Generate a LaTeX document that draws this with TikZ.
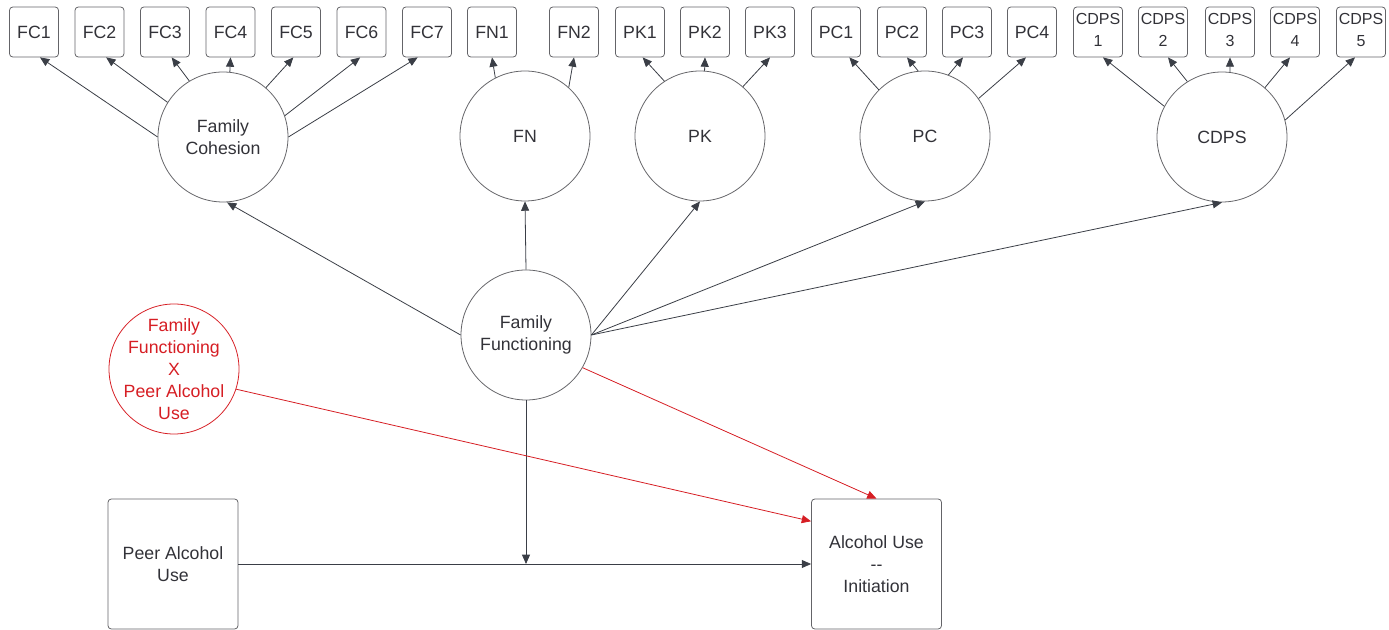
\documentclass[tikz,border=0pt]{standalone}
\usepackage{fontspec}
\setmainfont{Liberation Sans}
\usepackage{tikz}
\usetikzlibrary{calc,arrows.meta,positioning}
\definecolor{semgrey}{RGB}{58,62,70}
\definecolor{semframe}{RGB}{100,100,104}
\definecolor{semtext}{RGB}{50,50,56}
\definecolor{semred}{RGB}{214,30,36}
\tikzset{
  obs/.style={rectangle, rounded corners=2.5pt, draw=semframe, line width=0.6pt,
              minimum width=36.75pt, minimum height=37.5pt, inner sep=0pt,
              text=semtext, font=\fontsize{13.3}{16.5}\selectfont},
  obssmall/.style={obs, align=center, text depth=3pt, font=\fontsize{12}{16.5}\selectfont},
  lat/.style={circle, draw=semframe, line width=0.6pt, minimum size=97.5pt,
              inner sep=0pt, align=center, text=semtext,
              font=\fontsize{13.3}{16.5}\selectfont},
  latred/.style={lat, draw=semred, text=semred, inner sep=-10pt},
  bigbox/.style={rectangle, rounded corners=2.5pt, draw=semframe, line width=0.6pt,
                 minimum size=97.5pt, inner sep=0pt, align=center, text=semtext,
                 font=\fontsize{13.3}{16.5}\selectfont},
  ind/.style={-{Triangle[length=7pt, width=6pt]}, line width=0.6pt, semgrey},
  redind/.style={ind, semred},
}

\begin{document}
\begin{tikzpicture}[x=0.75pt, y=-0.75pt]
\useasboundingbox (0,0) rectangle (1389,630);
% latent factors
\node[lat] (fc)   at (223,137)  {Family\\Cohesion};
\node[lat] (fn)   at (525,136)  {FN};
\node[lat] (pk)   at (700,136)  {PK};
\node[lat] (pc)   at (925,136)  {PC};
\node[lat] (cdps) at (1222,137) {CDPS};
\node[lat] (ff)   at (526,335)  {Family\\Functioning};
\node[latred] (ia) at (174,369) {Family\\Functioning\\X\\Peer Alcohol\\Use};
\node[bigbox] (peer) at (173,564)  {Peer Alcohol\\Use};
\node[bigbox] (alc)  at (876.5,564) {Alcohol Use\\{-}{-}\\Initiation};
% indicators
\foreach \i/\x in {1/34,2/99.5,3/165,4/230.5,5/296,6/361.5,7/427}
  \node[obs] (fc\i) at (\x,32) {FC\i};
\node[obs] (fn1) at (492,32) {FN1};
\node[obs] (fn2) at (574,32) {FN2};
\foreach \i/\x in {1/640,2/705,3/770}
  \node[obs] (pk\i) at (\x,32) {PK\i};
\foreach \i/\x in {1/836,2/902,3/967,4/1032}
  \node[obs] (pc\i) at (\x,32) {PC\i};
\foreach \i/\x in {1/1098,2/1163,3/1230,4/1295,5/1361}
  \node[obssmall] (cdps\i) at (\x,32) {CDPS\\\i};
% loadings
\foreach \a/\b/\s in {180/fc1/4.5, 148/fc2/5, 121/fc3/5, 84/fc4/0, 49/fc5/-2, 19/fc6/-1, 0/fc7/-7}
  \draw[ind] (fc.\a) -- ([xshift=\s pt]\b.south);
\foreach \a/\b/\s in {117/fn1/0, 48/fn2/0}
  \draw[ind] (fn.\a) -- ([xshift=\s pt]\b.south);
\foreach \a/\b/\s in {123/pk1/2, 86/pk2/0, 49/pk3/0}
  \draw[ind] (pk.\a) -- ([xshift=\s pt]\b.south);
\foreach \a/\b/\s in {135/pc1/10, 96/pc2/3.75, 69/pc3/-3, 35/pc4/-4.5}
  \draw[ind] (pc.\a) -- ([xshift=\s pt]\b.south);
\foreach \a/\b/\s in {152/cdps1/3.75, 122/cdps2/3.75, 83/cdps3/0, 49/cdps4/-3.75, 15/cdps5/-4.5}
  \draw[ind] (cdps.\a) -- ([xshift=\s pt]\b.south);
% structural part
\draw[ind] (ff.west)  -- ([xshift=3pt]fc.south);
\draw[ind] (ff.north) -- (fn.south);
\foreach \t in {pk,pc,cdps}
  \draw[ind] (ff.east) -- (\t.south);
\coordinate (mod) at (ff.south |- peer.east);
\draw[ind] (ff.south) -- (mod);
\draw[ind] (peer) -- (alc);
\draw[redind] (ia.-18) -- ([yshift=-17pt]alc.north west);
\draw[redind] (ff.-30) -- (alc.north);
\end{tikzpicture}
\end{document}
